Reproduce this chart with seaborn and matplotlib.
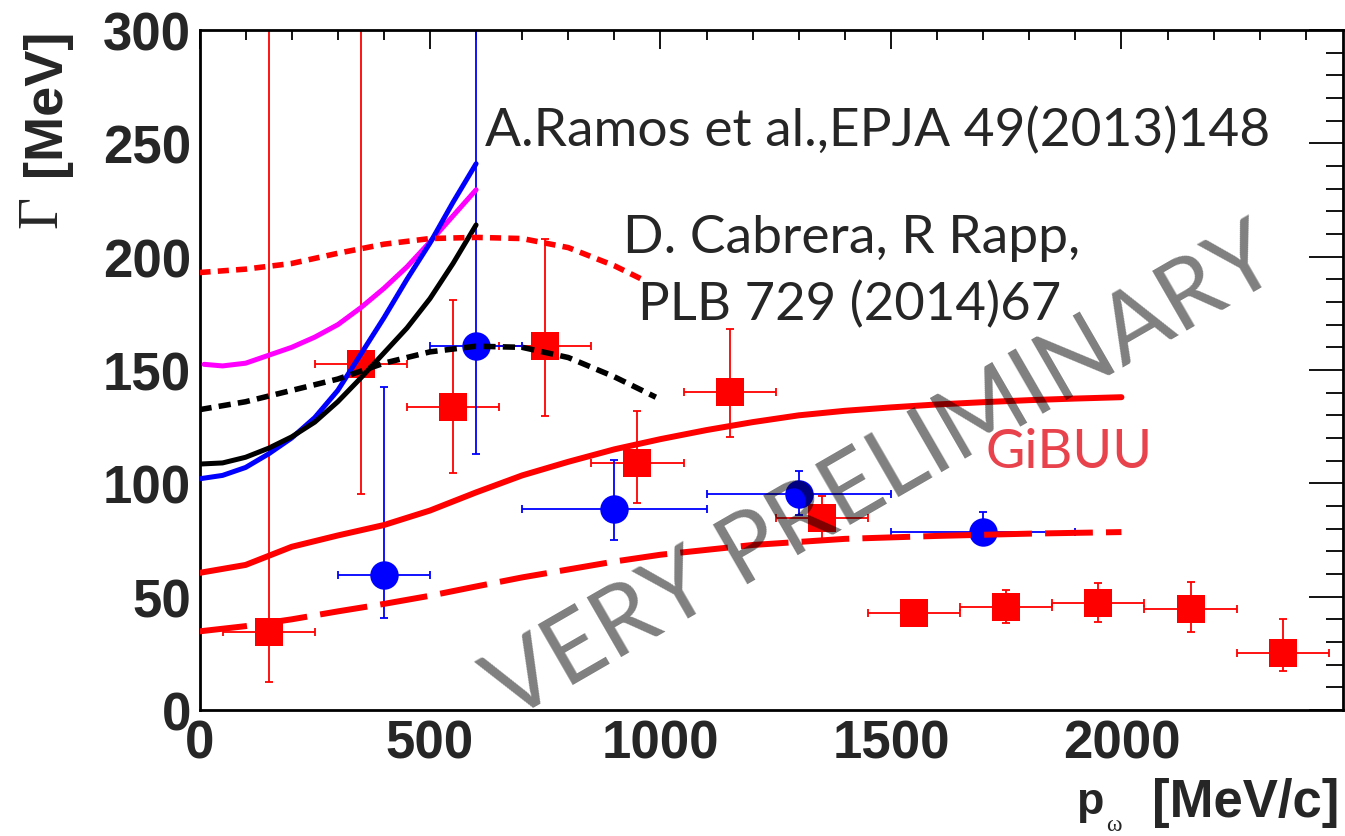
import matplotlib
matplotlib.use("Agg")
import matplotlib.pyplot as plt
from matplotlib import font_manager as fm
import seaborn as sns
from matplotlib.ticker import MultipleLocator

# ---------------- data ----------------
red_x = [150, 350, 550, 750, 950, 1150, 1350, 1550, 1750, 1950, 2150, 2350]
red_y = [34.5, 152.5, 133.5, 160.5, 109, 140.5, 84.5, 43, 45.5, 47, 44.5, 25]
red_xerr = [100, 100, 100, 100, 100, 100, 100, 100, 100, 100, 100, 100]
red_ylo = [22, 57, 29, 31, 17.5, 20, 9, 3, 7, 8, 10, 8]
red_yhi = [300, 200, 47.5, 47.5, 23, 27.5, 10, 3, 7.5, 9, 12, 15]

blue_x = [400, 600, 900, 1300, 1700]
blue_y = [59.5, 160.5, 88.5, 95.5, 78.5]
blue_xerr = [100, 100, 200, 200, 200]
blue_ylo = [19, 47.5, 13.5, 9.5, 5]
blue_yhi = [83, 200, 22, 10, 9]

gibuu_x = [0, 100, 200, 300, 400, 500, 600, 700, 800, 900, 1000, 1100, 1200,
           1300, 1400, 1500, 1600, 1700, 1800, 1900, 2000]
gibuu_hi = [60.5, 64, 72, 77, 81.6, 88, 96, 103.5, 109.5, 115, 119.5, 123.5, 127,
            130, 132, 133.5, 134.8, 135.8, 136.7, 137.4, 138]
gibuu_lo_x = [0, 100, 200, 300, 400, 500, 600, 700, 800, 900, 1000, 1200, 1400,
              1600, 1800, 2000]
gibuu_lo = [34.7, 37, 40, 43.5, 46.8, 50.4, 54.5, 58.5, 62, 65.5, 68.5, 72.8, 75.5,
            76.8, 77.8, 78.5]

ramos_x = [0, 50, 100, 150, 200, 250, 300, 350, 400, 450, 500, 550, 600]
ramos_blue = [102, 103.5, 107, 113, 120, 129, 141, 157, 173, 190, 206, 224, 241]
ramos_black = [108.5, 109, 111.5, 115.5, 120.5, 127, 136, 146.5, 157.5, 168.5,
               181.5, 197, 214]
ramos_mag_x = [10, 50, 100, 150, 200, 250, 300, 350, 400, 450, 500, 550, 600]
ramos_mag = [152.5, 151.8, 153, 156.5, 160, 164.5, 170, 177.5, 186, 195.5, 206.5,
             218, 229.5]

cab_red_x = [0, 100, 200, 300, 400, 500, 600, 700, 800, 900, 960]
cab_red = [193, 194.5, 197, 201.5, 205.5, 208, 208.5, 208, 204, 196, 190]
cab_blk_x = [0, 100, 200, 300, 400, 500, 600, 700, 800, 900, 990]
cab_blk = [132.5, 136, 141, 146, 153, 158, 160.5, 160, 155.5, 147, 138]

x_ticks = [0, 500, 1000, 1500, 2000]
y_ticks = [0, 50, 100, 150, 200, 250, 300]

# ---------------- figure ----------------
sns.set_style("white")
plt.rcParams["font.family"] = ["Liberation Sans", "DejaVu Sans"]

installed = {f.name for f in fm.fontManager.ttflist}
if "Liberation Sans Narrow" in installed:
    XFONT, XSIZE = ["Liberation Sans Narrow", "Liberation Sans"], 46
else:
    XFONT, XSIZE = ["Liberation Sans", "DejaVu Sans"], 38
SANS = ["Liberation Sans", "DejaVu Sans"]
SERIF = ["Liberation Serif", "DejaVu Serif"]

W, H = 1345, 837
fig = plt.figure(figsize=(W / 100, H / 100), dpi=100)
ax = fig.add_axes([199.5 / W, 1 - 711 / H, (1342.7 - 199.5) / W, (711 - 31) / H])

RED = "#ff0000"
BLUE = "#0000ff"

# error bars
ax.errorbar(red_x, red_y, xerr=red_xerr, yerr=[red_ylo, red_yhi], fmt="none",
            ecolor=RED, elinewidth=1.3, capsize=3, capthick=1.3, zorder=2)
ax.errorbar(blue_x, blue_y, xerr=blue_xerr, yerr=[blue_ylo, blue_yhi], fmt="none",
            ecolor=BLUE, elinewidth=1.3, capsize=3, capthick=1.3, zorder=2)

# markers
sns.scatterplot(x=red_x, y=red_y, marker="s", s=400, color=RED, linewidth=0,
                ax=ax, zorder=2.5)
sns.scatterplot(x=blue_x, y=blue_y, marker="o", s=420, color=BLUE, linewidth=0,
                ax=ax, zorder=2.5)

# curves
sns.lineplot(x=gibuu_x, y=gibuu_hi, color=RED, linewidth=4.3, ax=ax, zorder=3)
sns.lineplot(x=gibuu_lo_x, y=gibuu_lo, color=RED, linewidth=4.3, ax=ax, zorder=3,
             linestyle=(0, (8.0, 2.2)))
sns.lineplot(x=ramos_mag_x, y=ramos_mag, color="#ff00ff", linewidth=3.6, ax=ax, zorder=3)
sns.lineplot(x=ramos_x, y=ramos_blue, color=BLUE, linewidth=3.6, ax=ax, zorder=3)
sns.lineplot(x=ramos_x, y=ramos_black, color="black", linewidth=3.6, ax=ax, zorder=3)
sns.lineplot(x=cab_red_x, y=cab_red, color=RED, linewidth=4.0, ax=ax, zorder=3,
             linestyle=(0, (2.0, 1.3)))
sns.lineplot(x=cab_blk_x, y=cab_blk, color="black", linewidth=4.0, ax=ax, zorder=3,
             linestyle=(0, (2.2, 1.3)))

# axes
ax.set_xlim(0, 2480)
ax.set_ylim(0, 300)
ax.set_xlabel("")
ax.set_ylabel("")
ax.set_xticks(x_ticks)
ax.set_xticklabels([str(v) for v in x_ticks])
ax.set_yticks(y_ticks)
ax.set_yticklabels([str(v) for v in y_ticks])
ax.xaxis.set_minor_locator(MultipleLocator(100))
ax.yaxis.set_minor_locator(MultipleLocator(10))
for sp in ax.spines.values():
    sp.set_visible(True)
    sp.set_linewidth(2.0)
    sp.set_color("black")
ax.tick_params(axis="both", which="both", direction="in", top=True, right=True,
               color="black", width=1.3)
ax.tick_params(axis="y", which="major", length=24.5, pad=6)
ax.tick_params(axis="y", which="minor", length=12.2)
ax.tick_params(axis="x", which="major", length=13.7, pad=6)
ax.tick_params(axis="x", which="minor", length=7.2)
for lab in ax.get_yticklabels():
    lab.set_fontsize(38)
    lab.set_fontweight("bold")
    lab.set_family(SANS)
for lab in ax.get_xticklabels():
    lab.set_fontsize(XSIZE)
    lab.set_fontweight("bold")
    lab.set_family(XFONT)

# axis titles
fig.text(46 / W, 1 - 102 / H, "[MeV]", rotation=90, ha="center", va="center",
         fontsize=39, fontweight="bold", family=SANS)
fig.text(42 / W, 1 - 212 / H, "Γ", rotation=90, ha="center", va="center",
         fontsize=40, family=SERIF)
fig.text(1339 / W, 1 - 817 / H, "[MeV/c]", ha="right", va="baseline",
         fontsize=XSIZE, fontweight="bold", family=XFONT)
fig.text(1076 / W, 1 - 814 / H, "p", ha="left", va="baseline",
         fontsize=XSIZE * 0.85, fontweight="bold", family=XFONT)
fig.text(1106 / W, 1 - 836 / H, "ω", ha="left", va="bottom",
         fontsize=17, family=SERIF)

# annotations
ann_font = ["Lato", "DejaVu Sans"]
t1 = fig.text(485 / W, 1 - 146 / H, "A.Ramos et al.,EPJA 49(2013)148",
              ha="left", va="baseline", fontsize=40, family=ann_font, zorder=4)
t2 = fig.text(623 / W, 1 - 253 / H, "D. Cabrera, R Rapp,",
              ha="left", va="baseline", fontsize=40, family=ann_font, zorder=4)
t3 = fig.text(638 / W, 1 - 320 / H, "PLB 729 (2014)67",
              ha="left", va="baseline", fontsize=40, family=ann_font, zorder=4)
t4 = fig.text(985 / W, 1 - 468 / H, "GiBUU", color="#e8424c",
              ha="left", va="baseline", fontsize=40, family=ann_font, zorder=4)
t5 = fig.text(897 / W, 1 - 498 / H, "VERY PRELIMINARY", color="black", alpha=0.5,
              ha="center", va="baseline", rotation=0, rotation_mode="anchor",
              fontsize=70, fontweight="normal", family=ann_font, zorder=5)

renderer = fig.canvas.get_renderer()


def fit(t, target):
    w = t.get_window_extent(renderer).width
    t.set_fontsize(t.get_fontsize() * target / w)


fit(t1, 785)
fit(t2, 457)
fit(t3, 422)
fit(t4, 167)
fit(t5, 895)
t5.set_rotation(30)

fig.savefig("out.png", dpi=100)
